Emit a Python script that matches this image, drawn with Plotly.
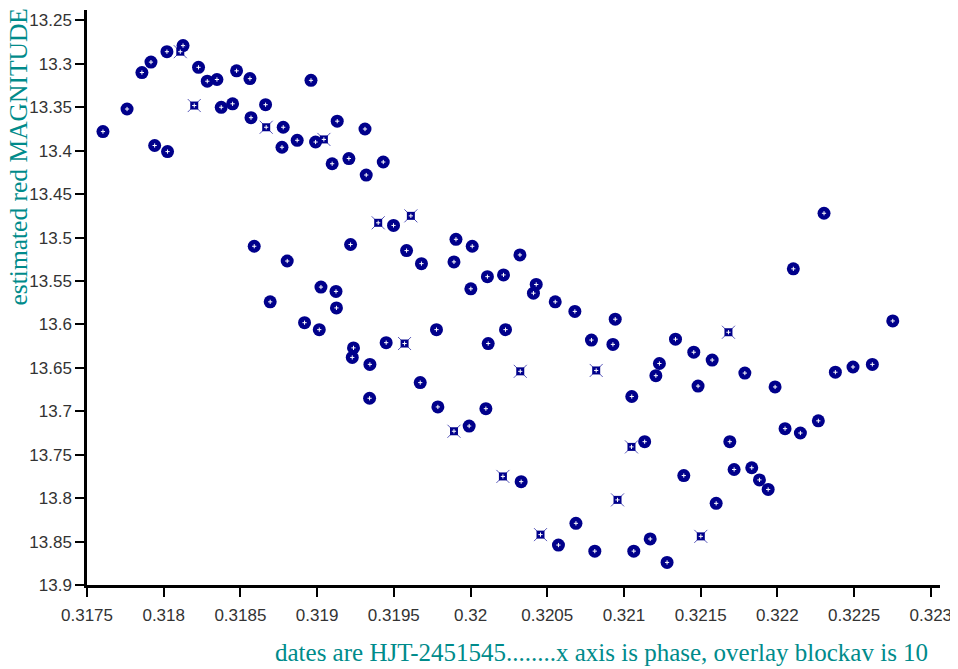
import plotly.graph_objects as go

# Phase (x) and estimated red magnitude (y) - regular points
phase = [0.317604, 0.317761, 0.317858, 0.317917, 0.317941, 0.318021, 0.318025, 0.318126,
         0.318227, 0.318284, 0.318347, 0.318375, 0.318449, 0.318475, 0.318562, 0.318569,
         0.318664, 0.318779, 0.318771, 0.318870, 0.318960, 0.318990, 0.319131, 0.319098,
         0.319207, 0.319312, 0.319320, 0.319431, 0.318590, 0.319218, 0.318805, 0.319025,
         0.319123, 0.318694, 0.319126, 0.318918, 0.319014, 0.319237, 0.319229, 0.319344,
         0.319342, 0.319450, 0.319498, 0.319583, 0.319680, 0.319905, 0.320011, 0.319892,
         0.320110, 0.320215, 0.320002, 0.320322, 0.320428, 0.320410, 0.320552, 0.320680,
         0.320943, 0.319778, 0.320115, 0.320228, 0.320788, 0.320928, 0.321336, 0.321231,
         0.321208, 0.319672, 0.319787, 0.320100, 0.319991, 0.321051, 0.321135, 0.320330,
         0.320687, 0.320573, 0.320810, 0.321064, 0.321171, 0.321281, 0.322304, 0.322104,
         0.322752, 0.321455, 0.321575, 0.321788, 0.321483, 0.321985, 0.322378, 0.322493,
         0.322619, 0.322267, 0.322050, 0.322150, 0.321690, 0.321390, 0.321718, 0.321833,
         0.321883, 0.321940, 0.321601]
magnitude = [13.378, 13.352, 13.310, 13.298, 13.394, 13.286, 13.401, 13.279,
             13.304, 13.320, 13.318, 13.350, 13.346, 13.308, 13.317, 13.362,
             13.347, 13.373, 13.396, 13.388, 13.319, 13.390, 13.366, 13.415,
             13.409, 13.375, 13.428, 13.413, 13.510, 13.508, 13.527, 13.557,
             13.562, 13.574, 13.581, 13.598, 13.606, 13.627, 13.638, 13.646,
             13.685, 13.621, 13.486, 13.515, 13.530, 13.502, 13.510, 13.528,
             13.545, 13.543, 13.559, 13.520, 13.554, 13.564, 13.574, 13.585,
             13.594, 13.606, 13.622, 13.606, 13.618, 13.623, 13.617, 13.645,
             13.659, 13.667, 13.695, 13.697, 13.717, 13.683, 13.735, 13.781,
             13.829, 13.854, 13.861, 13.861, 13.847, 13.874, 13.472, 13.536,
             13.596, 13.632, 13.641, 13.656, 13.671, 13.672, 13.655, 13.649,
             13.646, 13.711, 13.720, 13.725, 13.735, 13.774, 13.767, 13.765,
             13.779, 13.790, 13.806]

# Overlay (blockav) points - drawn with the small x-marked symbol
overlay_phase = [0.318108, 0.318199, 0.318668, 0.319044, 0.319398, 0.319611, 0.319570,
                 0.319892, 0.320211, 0.320324, 0.320456, 0.320819, 0.320958, 0.321049,
                 0.321501, 0.321681]
overlay_magnitude = [13.286, 13.348, 13.373, 13.387, 13.483, 13.475, 13.622,
                     13.723, 13.775, 13.654, 13.842, 13.653, 13.802, 13.741,
                     13.844, 13.609]

x_tickvals = [0.3175, 0.318, 0.3185, 0.319, 0.3195, 0.32, 0.3205, 0.321, 0.3215, 0.322, 0.3225, 0.323]
x_ticktext = ["0.3175", "0.318", "0.3185", "0.319", "0.3195", "0.32", "0.3205", "0.321",
              "0.3215", "0.322", "0.3225", "0.323"]
y_tickvals = [13.25, 13.3, 13.35, 13.4, 13.45, 13.5, 13.55, 13.6, 13.65, 13.7, 13.75, 13.8, 13.85, 13.9]
y_ticktext = ["13.25", "13.3", "13.35", "13.4", "13.45", "13.5", "13.55", "13.6", "13.65",
              "13.7", "13.75", "13.8", "13.85", "13.9"]

NAVY = "#00008b"

fig = go.Figure()
fig.add_trace(go.Scatter(
    x=phase, y=magnitude, mode="markers",
    marker=dict(symbol="circle", size=13, color=NAVY, line=dict(width=0)),
    hoverinfo="x+y", showlegend=False))
fig.add_trace(go.Scatter(
    x=overlay_phase, y=overlay_magnitude, mode="markers",
    marker=dict(symbol="x-thin", size=13, line=dict(width=1, color="rgba(30,30,160,0.75)")),
    hoverinfo="skip", showlegend=False))
fig.add_trace(go.Scatter(
    x=overlay_phase, y=overlay_magnitude, mode="markers",
    marker=dict(symbol="square", size=8, color=NAVY, line=dict(width=0)),
    hoverinfo="x+y", showlegend=False))
# small white highlights
fig.add_trace(go.Scatter(
    x=phase + overlay_phase, y=magnitude + overlay_magnitude, mode="markers",
    marker=dict(symbol="cross-thin", size=3, line=dict(width=1, color="white")),
    hoverinfo="skip", showlegend=False))

axis_common = dict(
    showgrid=False, zeroline=False, showline=True, linecolor="black", linewidth=2.5,
    ticks="outside", ticklen=9, tickwidth=2, tickcolor="black",
    tickfont=dict(family="Liberation Sans, Arial, sans-serif", size=17, color="#333333"),
)

# The page body has an 8px margin, so the figure is sized and placed to compensate.
fig.update_layout(
    width=950, height=661,
    margin=dict(l=79, r=18, t=2, b=84),
    paper_bgcolor="white", plot_bgcolor="white",
    xaxis=dict(range=[0.3175, 0.32306], tickvals=x_tickvals, ticktext=x_ticktext,
               ticklabelstandoff=4, **axis_common),
    yaxis=dict(range=[13.9, 13.238], tickvals=y_tickvals, ticktext=y_ticktext, **axis_common),
    annotations=[
        dict(text="dates are HJT-2451545........x axis is phase, overlay blockav is 10",
             xref="paper", yref="paper", x=0.988, y=-0.118, xanchor="right", yanchor="middle",
             showarrow=False,
             font=dict(family="Liberation Serif, Times New Roman, serif", size=25, color="#008b8b")),
        dict(text="estimated red MAGNITUDE", textangle=-90,
             xref="paper", yref="paper", x=-0.0805, y=0.744, xanchor="center", yanchor="middle",
             showarrow=False,
             font=dict(family="Liberation Serif, Times New Roman, serif", size=25.5, color="#008b8b")),
    ],
)

fig.write_html("out.html")
